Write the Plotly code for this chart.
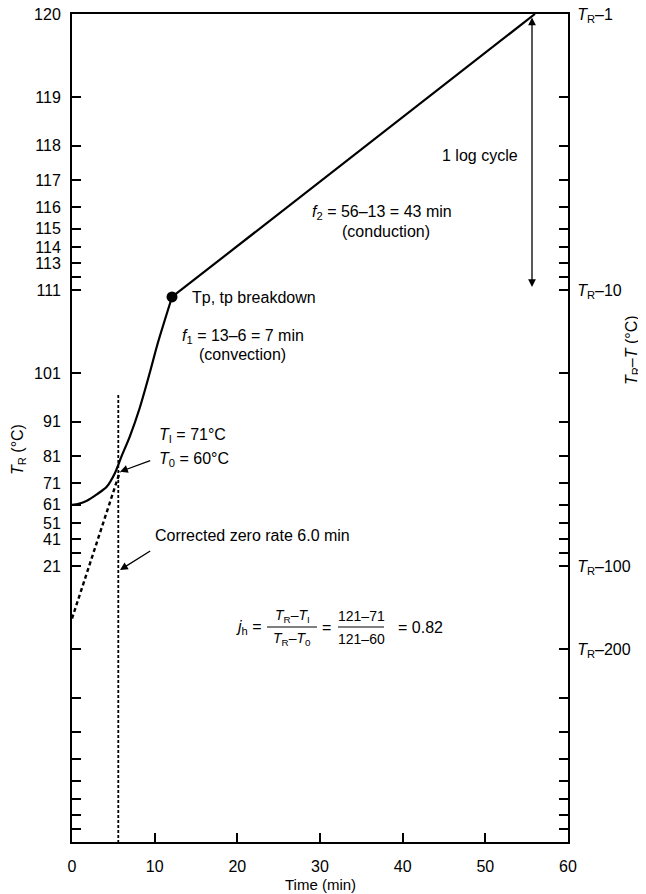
import plotly.graph_objects as go

# ---------------- data ----------------
TR = 121
# heating curve: time (min) and T_R - T (°C); first part curved (convection), last part straight
curve_time = [0, 0.8, 1.8, 3.0, 4.2, 5.2, 6.0, 7.0, 8.2, 9.4, 10.4, 12.1]
curve_diff = [60, 59.5, 58, 55.0, 51.6, 46.0, 40, 33.9, 26.7, 20.0, 15.5, 10.6]
cond_time = [12.1, 56.0]
cond_diff = [10.6, 1.0]
# break point (Tp, tp)
break_time = [12.1]
break_diff = [10.6]
# extrapolated convection line (dashed)
extrap_time = [0, 5.8]
extrap_diff = [155, 45.5]
# corrected zero (vertical dotted line)
zero_time = [5.6, 5.6]
zero_diff = [24, 1000]

left_tickvals = [1, 2, 3, 4, 5, 6, 7, 8, 9, 10,
                 20, 30, 40, 50, 60, 70, 80, 90, 100,
                 200, 300, 400, 500, 600, 700, 800, 900, 1000]
left_labels = {1: "120", 2: "119", 3: "118", 4: "117", 5: "116", 6: "115",
               7: "114", 8: "113", 10: "111", 20: "101", 30: "91", 40: "81",
               50: "71", 60: "61", 70: "51", 80: "41", 100: "21"}
right_labels = {1: "<i>T</i><sub>R</sub>–1", 10: "<i>T</i><sub>R</sub>–10",
                100: "<i>T</i><sub>R</sub>–100", 200: "<i>T</i><sub>R</sub>–200"}
x_tickvals = [0, 10, 20, 30, 40, 50, 60]

# ---------------- geometry (reference-pixel based) ----------------
OFF = 8                      # page body margin
W, H = 646 - OFF, 894 - OFF
L, R, T, B = 72, 568, 14, 842   # plot area in window pixels
FONT = "Liberation Sans, Arial, Helvetica, sans-serif"

def px_x(px):
    return (px - L) / (R - L) * 60.0

def px_ylog(py):
    return (py - T) / (B - T) * 3.0

def pap_x(px):
    return (px - L) / (R - L)

def pap_y(py):
    return (B - py) / (B - T)

fig = go.Figure()

fig.add_trace(go.Scatter(x=curve_time, y=curve_diff, mode="lines",
                         line=dict(color="black", width=2.2, shape="spline", smoothing=0.8),
                         hoverinfo="skip"))
fig.add_trace(go.Scatter(x=cond_time, y=cond_diff, mode="lines",
                         line=dict(color="black", width=2.2), hoverinfo="skip"))
fig.add_trace(go.Scatter(x=break_time, y=break_diff, mode="markers",
                         marker=dict(color="black", size=11), hoverinfo="skip"))
fig.add_trace(go.Scatter(x=extrap_time, y=extrap_diff, mode="lines",
                         line=dict(color="black", width=2.4, dash="4px,3px"), hoverinfo="skip"))
fig.add_trace(go.Scatter(x=zero_time, y=zero_diff, mode="lines",
                         line=dict(color="black", width=1.8, dash="3px,2px"), hoverinfo="skip"))
# invisible trace to activate right axis
fig.add_trace(go.Scatter(x=[0], y=[1], yaxis="y2", mode="markers",
                         marker=dict(opacity=0), hoverinfo="skip"))

axis_common = dict(type="log", range=[3, 0], tickmode="array", automargin=False,
                   ticklabeloverflow="allow",
                   tickvals=left_tickvals, ticks="inside", ticklen=9, tickwidth=1.5,
                   tickcolor="black", showline=True, linewidth=2, linecolor="black",
                   showgrid=False, zeroline=False,
                   tickfont=dict(family=FONT, size=16, color="black"))

fig.update_layout(
    width=W, height=H,
    margin=dict(l=L - OFF, r=W - (R - OFF), t=T - OFF, b=H - (B - OFF), pad=0),
    paper_bgcolor="white", plot_bgcolor="white",
    showlegend=False,
    xaxis=dict(range=[0, 60], tickmode="array", tickvals=x_tickvals, automargin=False,
               ticklabeloverflow="allow",
               ticks="inside", ticklen=9, tickwidth=1.5, tickcolor="black",
               showline=True, mirror=True, linewidth=2, linecolor="black",
               showgrid=False, zeroline=False, ticklabelstandoff=9,
               tickfont=dict(family=FONT, size=16, color="black")),
    yaxis=dict(**axis_common,
               ticktext=[left_labels.get(v, "") for v in left_tickvals],
               ticklabelstandoff=6),
    yaxis2=dict(**axis_common, overlaying="y", side="right", anchor="x",
                ticktext=[right_labels.get(v, "") for v in left_tickvals],
                ticklabelstandoff=4),
)

ann = []
def text(px, py, s, anchor="left", size=16):
    ann.append(dict(x=px_x(px), y=px_ylog(py), xref="x", yref="y", text=s,
                    showarrow=False, xanchor=anchor, yanchor="middle",
                    font=dict(family=FONT, size=size, color="black")))

def ptext(px, py, s, anchor="center", size=16, angle=0):
    ann.append(dict(x=pap_x(px), y=pap_y(py), xref="paper", yref="paper", text=s,
                    showarrow=False, xanchor=anchor, yanchor="middle", textangle=angle,
                    font=dict(family=FONT, size=size, color="black")))

def arrow(hx, hy, tx, ty, side="end"):
    ann.append(dict(x=px_x(hx), y=px_ylog(hy), ax=px_x(tx), ay=px_ylog(ty),
                    xref="x", yref="y", axref="x", ayref="y", text="",
                    showarrow=True, arrowhead=2, arrowsize=1.2, arrowwidth=1.3,
                    arrowcolor="black", arrowside=side, standoff=0, startstandoff=0))

text(190, 297, "Tp, tp breakdown")
text(243, 336, "<i>f</i><sub>1</sub> = 13–6 = 7 min", anchor="center")
text(242, 354, "(convection)", anchor="center")
text(157, 435, "<i>T</i><sub>I</sub> = 71°C")
text(157, 459, "<i>T</i><sub>0</sub> = 60°C")
text(153, 535, "Corrected zero rate 6.0 min")
text(382, 212, "<i>f</i><sub>2</sub> = 56–13 = 43 min", anchor="center")
text(386, 231, "(conduction)", anchor="center")
text(520, 155, "1 log cycle", anchor="right")

arrow(120, 471.7, 151.7, 460)
arrow(120, 570, 151.7, 550)
arrow(532, 287, 532, 16, side="end+start")

# j_h formula
FY = 627           # middle row
ptext(264, FY, "<i>j</i><sub>h</sub> =", anchor="right")
ptext(292, FY - 11, "<i>T</i><sub>R</sub>–<i>T</i><sub>I</sub>", size=14)
ptext(292, FY + 12, "<i>T</i><sub>R</sub>–<i>T</i><sub>0</sub>", size=14)
ptext(326, FY, "=")
ptext(361, FY - 11, "121–71", size=14)
ptext(361, FY + 12, "121–60", size=14)
ptext(396, FY, "= 0.82", anchor="left")

# axis titles
ptext(320, 884, "Time (min)", size=15)
ptext(18, 450, "<i>T</i><sub>R</sub> (°C)", angle=-90)
ptext(632, 350, "<i>T</i><sub>R</sub>–<i>T</i> (°C)", angle=-90)

fig.update_layout(annotations=ann)

shapes = []
for x0, x1 in [(267, 317), (338, 384)]:
    shapes.append(dict(type="line", xref="paper", yref="paper",
                       x0=pap_x(x0), x1=pap_x(x1), y0=pap_y(FY), y1=pap_y(FY),
                       line=dict(color="black", width=1)))
fig.update_layout(shapes=shapes)

fig.write_html("out.html")
